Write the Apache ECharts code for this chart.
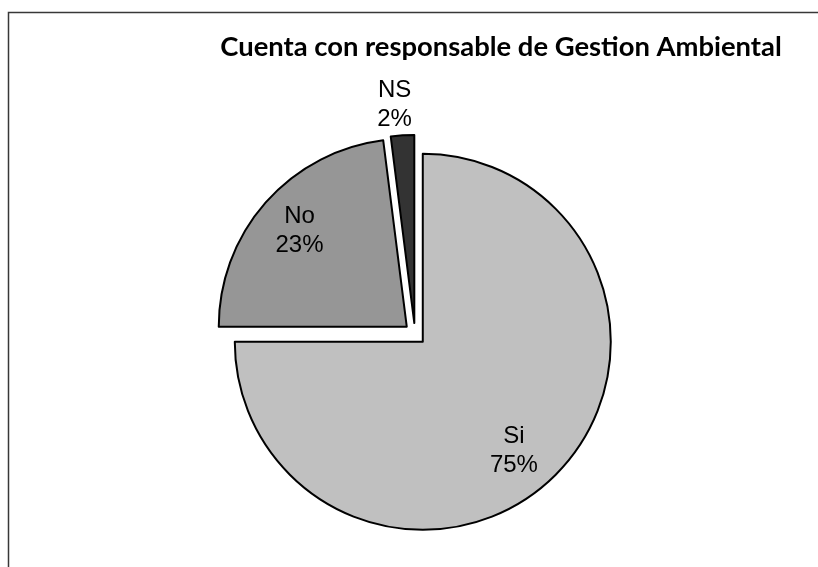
<!DOCTYPE html>
<html>
<head>
<meta charset="utf-8">
<script src="https://cdn.jsdelivr.net/npm/echarts@6/dist/echarts.min.js"></script>
<style>
  html, body { margin: 0; padding: 0; background: #fff; }
  #chart { width: 818px; height: 567px; }
</style>
</head>
<body>
<div id="chart"></div>
<script>
const titleText = 'Cuenta con responsable de Gestion Ambiental';
const categories = ['Si', 'No', 'NS'];
const values = [75, 23, 2];
const colors = ['#c0c0c0', '#969696', '#333333'];

const chart = echarts.init(document.getElementById('chart'), null, { renderer: 'canvas' });

const center = [415, 334];
const R = 188;
const offset = 11;

const sliceData = categories.map((c, i) => ({
  name: c, value: values[i], selected: true,
  itemStyle: { color: colors[i] }
}));

const labelFmt = p => p.name + '\n' + Math.round(p.percent) + '%';
const labelStyle = {
  fontFamily: 'Liberation Sans, Arial, sans-serif',
  fontSize: 24, lineHeight: 29, color: '#000'
};

const innerLabelData = categories.map((c, i) => ({
  name: c, value: values[i], selected: true,
  label: { show: i < 2 }
}));
const outerLabelData = categories.map((c, i) => ({
  name: c, value: values[i], selected: true,
  label: { show: i === 2 }
}));

// small label nudges by data index (Si, No, NS)
const nudges = [[-10, 8], [0, -1], [-6, 0]];
const nudge = p => { const n = nudges[p.dataIndex] || [0, 0]; return { dx: n[0], dy: n[1] }; };

chart.setOption({
  animation: false,
  title: {
    text: titleText,
    left: 496, top: 29, textAlign: 'center',
    textStyle: { fontFamily: 'Lato, sans-serif', fontWeight: 'bold', fontSize: 27.4, color: '#000' }
  },
  graphic: [{
    type: 'polyline', silent: true,
    shape: { points: [[8.5, 567], [8.5, 12.5], [818, 12.5]] },
    style: { stroke: '#383838', lineWidth: 1.5, fill: null }
  }],
  series: [
    {
      type: 'pie', center: center, radius: [0, R],
      startAngle: 90, clockwise: true,
      selectedMode: 'multiple', selectedOffset: offset,
      silent: true,
      itemStyle: { borderColor: '#000', borderWidth: 2 },
      label: { show: false }, labelLine: { show: false },
      emphasis: { disabled: true },
      select: { itemStyle: { borderColor: '#000', borderWidth: 2 } },
      data: sliceData
    },
    {
      type: 'pie', center: center, radius: [0, 280],
      startAngle: 90, clockwise: true,
      selectedMode: 'multiple', selectedOffset: offset,
      silent: true,
      itemStyle: { color: 'rgba(0,0,0,0)', borderWidth: 0 },
      label: Object.assign({ position: 'inside', formatter: labelFmt }, labelStyle),
      labelLine: { show: false },
      emphasis: { disabled: true },
      select: { itemStyle: { color: 'rgba(0,0,0,0)', borderWidth: 0 } },
      labelLayout: nudge,
      data: innerLabelData
    },
    {
      type: 'pie', center: center, radius: [0, 432],
      startAngle: 90, clockwise: true,
      selectedMode: 'multiple', selectedOffset: offset,
      silent: true,
      itemStyle: { color: 'rgba(0,0,0,0)', borderWidth: 0 },
      label: Object.assign({ position: 'inside', formatter: labelFmt }, labelStyle),
      labelLine: { show: false },
      emphasis: { disabled: true },
      select: { itemStyle: { color: 'rgba(0,0,0,0)', borderWidth: 0 } },
      labelLayout: nudge,
      data: outerLabelData
    }
  ]
});
</script>
</body>
</html>
